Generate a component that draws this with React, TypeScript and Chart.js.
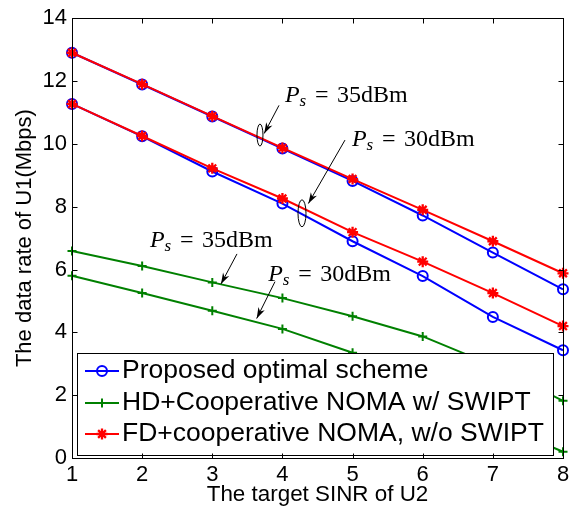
import React, { useEffect, useRef } from "react";
import { Chart, registerables } from "chart.js";

Chart.register(...registerables);

// ---- data ----
const sinrTargets = [1, 2, 3, 4, 5, 6, 7, 8];
const proposed35 = [12.9, 11.89, 10.87, 9.85, 8.82, 7.72, 6.54, 5.37];
const proposed30 = [11.27, 10.24, 9.12, 8.1, 6.9, 5.79, 4.49, 3.43];
const fd35 = [12.9, 11.9, 10.88, 9.87, 8.88, 7.9, 6.9, 5.88];
const fd30 = [11.27, 10.25, 9.22, 8.26, 7.19, 6.25, 5.25, 4.2];
const hd35 = [6.59, 6.11, 5.59, 5.09, 4.51, 3.87, 2.95, 1.82];
const hd30 = [5.8, 5.25, 4.69, 4.11, 3.35, 2.3, 1.15, 0.2];
const xTickValues = [1, 2, 3, 4, 5, 6, 7, 8];
const yTickValues = [0, 2, 4, 6, 8, 10, 12, 14];
const legendLabels = [
  "Proposed optimal scheme",
  "HD+Cooperative NOMA w/ SWIPT",
  "FD+cooperative NOMA, w/o SWIPT",
];
const xTitle = "The target SINR of U2";
const yTitle = "The data rate of U1(Mbps)";

// annotations in data coordinates
const annotations = [
  { text: "35dBm", tx: 4.037, ty: 11.32, ax0: 3.951, ay0: 11.225, ax1: 3.74, ay1: 10.33, ex: 3.68, ey: 10.28, erx: 3, ery: 11 },
  { text: "30dBm", tx: 4.992, ty: 9.93, ax0: 4.892, ay0: 10.12, ax1: 4.37, ay1: 8.1, ex: 4.279, ey: 7.79, erx: 4, ery: 13.5 },
  { text: "35dBm", tx: 2.112, ty: 6.716, ax0: 3.352, ay0: 6.496, ax1: 3.124, ay1: 5.54 },
  { text: "30dBm", tx: 3.799, ty: 5.635, ax0: 3.894, ay0: 5.613, ax1: 3.633, ay1: 4.44 },
];

const BLUE = "#0000ff";
const GREEN = "#008000";
const RED = "#ff0000";

const toPts = (ys: number[]) => ys.map((y, i) => ({ x: sinrTargets[i], y }));

function makeDataset(label: string, ys: number[], kind: "p" | "h" | "f") {
  const color = kind === "p" ? BLUE : kind === "h" ? GREEN : RED;
  return {
    label,
    data: toPts(ys),
    borderColor: color,
    backgroundColor: color,
    borderWidth: 2,
    pointStyle: kind === "p" ? "circle" : kind === "h" ? "cross" : "star",
    pointRadius: kind === "p" ? 5 : kind === "h" ? 4.5 : 5.5,
    pointBorderWidth: kind === "f" ? 2.3 : 2,
    pointBackgroundColor: kind === "p" ? "rgba(0,0,0,0)" : color,
    pointBorderColor: color,
    order: kind === "f" ? 0 : kind === "h" ? 1 : 2,
    clip: false as any,
    tension: 0,
  };
}

const SERIF = "'Liberation Serif', 'Times New Roman', serif";
const SANS = "'Liberation Sans', Arial, sans-serif";

function drawArrow(ctx: CanvasRenderingContext2D, x0: number, y0: number, x1: number, y1: number) {
  ctx.save();
  ctx.strokeStyle = "#000";
  ctx.fillStyle = "#000";
  ctx.lineWidth = 1;
  ctx.beginPath();
  ctx.moveTo(x0, y0);
  ctx.lineTo(x1, y1);
  ctx.stroke();
  const ang = Math.atan2(y1 - y0, x1 - x0);
  const len = 11;
  const hw = 3.5;
  const bx = x1 - len * Math.cos(ang);
  const by = y1 - len * Math.sin(ang);
  const nx = -Math.sin(ang);
  const ny = Math.cos(ang);
  const mx = x1 - len * 0.7 * Math.cos(ang);
  const my = y1 - len * 0.7 * Math.sin(ang);
  ctx.beginPath();
  ctx.moveTo(x1, y1);
  ctx.lineTo(bx + nx * hw, by + ny * hw);
  ctx.lineTo(mx, my);
  ctx.lineTo(bx - nx * hw, by - ny * hw);
  ctx.closePath();
  ctx.fill();
  ctx.restore();
}

function drawMarker(ctx: CanvasRenderingContext2D, kind: number, x: number, y: number, color: string) {
  ctx.save();
  ctx.strokeStyle = color;
  ctx.lineWidth = 2;
  ctx.beginPath();
  if (kind === 0) {
    ctx.arc(x, y, 5, 0, Math.PI * 2);
  } else if (kind === 1) {
    const r = 4.5;
    ctx.moveTo(x - r, y);
    ctx.lineTo(x + r, y);
    ctx.moveTo(x, y - r);
    ctx.lineTo(x, y + r);
  } else {
    const r = 5.5;
    ctx.lineWidth = 2.3;
    for (let k = 0; k < 4; k++) {
      const a = (k * Math.PI) / 4;
      ctx.moveTo(x - r * Math.cos(a), y - r * Math.sin(a));
      ctx.lineTo(x + r * Math.cos(a), y + r * Math.sin(a));
    }
  }
  ctx.stroke();
  ctx.restore();
}

const matlabPlugin = {
  id: "matlabLook",
  afterDatasetsDraw(chart: any) {
    const { ctx, chartArea: ca, scales } = chart;
    const xs = scales.x;
    const ys = scales.y;

    // annotations
    ctx.save();
    for (const a of annotations) {
      const tx = xs.getPixelForValue(a.tx);
      const ty = ys.getPixelForValue(a.ty);
      ctx.fillStyle = "#000";
      ctx.textBaseline = "alphabetic";
      ctx.textAlign = "left";
      ctx.font = `italic 24px ${SERIF}`;
      ctx.fillText("P", tx, ty);
      ctx.font = `italic 17px ${SERIF}`;
      ctx.fillText("s", tx + 14.5, ty + 4);
      ctx.font = `24px ${SERIF}`;
      ctx.fillText("=", tx + 30, ty);
      ctx.fillText(a.text, tx + 52, ty);
      drawArrow(
        ctx,
        xs.getPixelForValue(a.ax0),
        ys.getPixelForValue(a.ay0),
        xs.getPixelForValue(a.ax1),
        ys.getPixelForValue(a.ay1)
      );
      if (a.ex !== undefined) {
        ctx.beginPath();
        ctx.strokeStyle = "#000";
        ctx.lineWidth = 1;
        ctx.ellipse(xs.getPixelForValue(a.ex), ys.getPixelForValue(a.ey), a.erx, a.ery, 0, 0, Math.PI * 2);
        ctx.stroke();
      }
    }
    ctx.restore();

    // legend box
    const lx0 = ca.left + 5;
    const lx1 = ca.right - 10;
    const ly0 = ca.bottom - 105;
    const ly1 = ca.bottom - 3;
    ctx.save();
    ctx.fillStyle = "#fff";
    ctx.fillRect(lx0, ly0, lx1 - lx0, ly1 - ly0);
    ctx.strokeStyle = "#000";
    ctx.lineWidth = 1;
    ctx.strokeRect(Math.round(lx0) + 0.5, Math.round(ly0) + 0.5, lx1 - lx0, ly1 - ly0);
    const rows = [18, 50, 81];
    const colors = [BLUE, GREEN, RED];
    for (let i = 0; i < 3; i++) {
      const cy = ly0 + rows[i];
      ctx.strokeStyle = colors[i];
      ctx.lineWidth = 2;
      ctx.beginPath();
      ctx.moveTo(lx0 + 8, cy);
      ctx.lineTo(lx0 + 42, cy);
      ctx.stroke();
      drawMarker(ctx, i, lx0 + 25, cy, colors[i]);
      ctx.fillStyle = "#000";
      ctx.font = `26.5px ${SANS}`;
      ctx.textBaseline = "middle";
      ctx.textAlign = "left";
      ctx.fillText(legendLabels[i], lx0 + 45, cy);
    }
    ctx.restore();
  },
  afterDraw(chart: any) {
    const { ctx, chartArea: ca, scales } = chart;
    const xs = scales.x;
    const ys = scales.y;
    ctx.save();
    ctx.strokeStyle = "#000";
    ctx.lineWidth = 1;
    const L = Math.round(ca.left) + 0.5;
    const R = Math.round(ca.right) + 0.5;
    const T = Math.round(ca.top) + 0.5;
    const B = Math.round(ca.bottom) + 0.5;
    ctx.strokeRect(L, T, R - L, B - T);
    const tl = 5;
    ctx.beginPath();
    for (const v of xTickValues) {
      const px = Math.round(xs.getPixelForValue(v)) + 0.5;
      ctx.moveTo(px, B);
      ctx.lineTo(px, B - tl);
      ctx.moveTo(px, T);
      ctx.lineTo(px, T + tl);
    }
    for (const v of yTickValues) {
      const py = Math.round(ys.getPixelForValue(v)) + 0.5;
      ctx.moveTo(L, py);
      ctx.lineTo(L + tl, py);
      ctx.moveTo(R, py);
      ctx.lineTo(R - tl, py);
    }
    ctx.stroke();
    ctx.restore();
  },
};

export default function App() {
  const ref = useRef<HTMLCanvasElement | null>(null);
  useEffect(() => {
    if (!ref.current) return;
    Chart.defaults.font.family = SANS;
    const chart = new Chart(ref.current, {
      type: "line",
      data: {
        datasets: [
          makeDataset("Proposed 35", proposed35, "p"),
          makeDataset("Proposed 30", proposed30, "p"),
          makeDataset("HD 35", hd35, "h"),
          makeDataset("HD 30", hd30, "h"),
          makeDataset("FD 35", fd35, "f"),
          makeDataset("FD 30", fd30, "f"),
        ] as any,
      },
      options: {
        responsive: false,
        animation: false,
        layout: { padding: { left: 0, top: 14, right: 13, bottom: 0 } },
        plugins: { legend: { display: false }, tooltip: { enabled: false } },
        scales: {
          x: {
            type: "linear",
            min: 1,
            max: 8,
            afterFit: (s: any) => {
              s.height = 53;
            },
            afterBuildTicks: (s: any) => {
              s.ticks = xTickValues.map((v) => ({ value: v }));
            },
            ticks: { font: { size: 22 }, color: "#000", padding: 4 },
            grid: { display: false, drawTicks: false },
            border: { display: false },
            title: {
              display: true,
              text: xTitle,
              font: { size: 22.4 },
              color: "#000",
              padding: { top: 0, bottom: 3 },
            },
          },
          y: {
            min: 0,
            max: 14,
            afterFit: (s: any) => {
              s.width = 72;
            },
            afterBuildTicks: (s: any) => {
              s.ticks = yTickValues.map((v) => ({ value: v }));
            },
            ticks: { font: { size: 22 }, color: "#000", padding: 5 },
            grid: { display: false, drawTicks: false },
            border: { display: false },
            title: {
              display: true,
              text: yTitle,
              font: { size: 22 },
              color: "#000",
              padding: { top: 12, bottom: 0 },
            },
          },
        },
      },
      plugins: [matlabPlugin],
    });
    return () => chart.destroy();
  }, []);
  return (
    <div style={{ position: "fixed", left: 0, top: 0, width: 576, height: 511, background: "#fff" }}>
      <canvas ref={ref} width={576} height={511} style={{ display: "block" }} />
    </div>
  );
}
